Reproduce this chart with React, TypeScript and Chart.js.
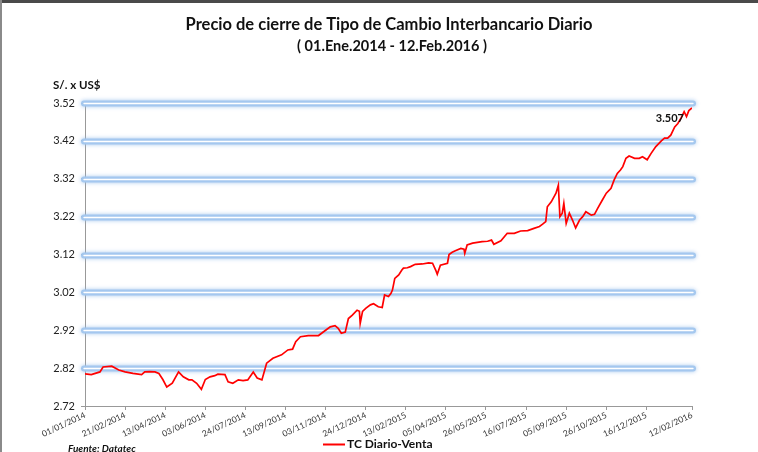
import React, { useEffect, useRef } from "react";
import { Chart, registerables } from "chart.js";

Chart.register(...registerables);

const titleText = "Precio de cierre de Tipo de Cambio Interbancario Diario";
const subtitleText = "( 01.Ene.2014 - 12.Feb.2016 )";
const unitText = "S/. x US$";
const sourceText = "Fuente: Datatec";
const seriesName = "TC Diario-Venta";
const lastValueLabel = "3.507";

const xTickDays = [0, 51, 102, 153, 204, 255, 306, 357, 408, 459, 510, 561, 612, 663, 714, 772];
const xTickLabels = [
  "01/01/2014", "21/02/2014", "13/04/2014", "03/06/2014", "24/07/2014", "13/09/2014",
  "03/11/2014", "24/12/2014", "13/02/2015", "05/04/2015", "26/05/2015", "16/07/2015",
  "05/09/2015", "26/10/2015", "16/12/2015", "12/02/2016",
];
const yTicks = [2.72, 2.82, 2.92, 3.02, 3.12, 3.22, 3.32, 3.42, 3.52];

// day offset from 01/01/2014
const days = [
  0, 8, 19, 23, 34, 43, 51, 61, 72, 76, 82, 89, 94, 99, 104, 111, 119, 125, 132, 136,
  142, 148, 153, 159, 165, 169, 178, 182, 188, 195, 201, 207, 214, 219, 225, 231, 239, 250, 258, 264,
  268, 274, 284, 297, 306, 312, 318, 322, 326, 331, 335, 340, 346, 349, 350, 353, 357, 363, 367, 373,
  378, 381, 386, 389, 391, 394, 399, 403, 405, 410, 414, 420, 429, 437, 442, 446, 448, 452, 461, 463,
  467, 471, 478, 482, 483, 486, 493, 499, 505, 512, 517, 520, 529, 537, 546, 554, 563, 571, 578, 582,
  586, 588, 593, 599, 602, 604, 607, 609, 612, 616, 620, 624, 629, 633, 637, 644, 648, 652, 658, 663,
  669, 673, 677, 681, 684, 688, 692, 699, 705, 709, 715, 720, 726, 733, 737, 741, 745, 750, 754, 758,
  762, 765, 768, 772,
];
const values = [
  2.805, 2.803, 2.81, 2.823, 2.825, 2.815, 2.81, 2.806, 2.803, 2.81, 2.811, 2.81, 2.806, 2.79, 2.77, 2.78, 2.81, 2.797, 2.789, 2.789,
  2.78, 2.764, 2.79, 2.797, 2.8, 2.804, 2.803, 2.784, 2.78, 2.789, 2.787, 2.789, 2.81, 2.794, 2.789, 2.833, 2.846, 2.855, 2.868, 2.87,
  2.89, 2.903, 2.906, 2.906, 2.92, 2.929, 2.932, 2.925, 2.912, 2.915, 2.951, 2.96, 2.973, 2.97, 2.938, 2.97, 2.978, 2.987, 2.99, 2.982,
  2.98, 3.013, 3.009, 3.017, 3.026, 3.057, 3.066, 3.079, 3.084, 3.085, 3.088, 3.094, 3.095, 3.098, 3.097, 3.079, 3.068, 3.092, 3.097, 3.12,
  3.126, 3.13, 3.136, 3.134, 3.123, 3.145, 3.15, 3.152, 3.154, 3.155, 3.158, 3.147, 3.156, 3.176, 3.176, 3.182, 3.183, 3.189, 3.194, 3.2,
  3.207, 3.246, 3.259, 3.282, 3.303, 3.22, 3.229, 3.255, 3.202, 3.229, 3.211, 3.19, 3.211, 3.22, 3.233, 3.224, 3.226, 3.242, 3.264, 3.282,
  3.295, 3.317, 3.334, 3.343, 3.352, 3.374, 3.38, 3.374, 3.374, 3.378, 3.37, 3.387, 3.405, 3.42, 3.427, 3.427, 3.435, 3.457, 3.466, 3.48,
  3.497, 3.484, 3.5, 3.507,
];

const FONT = 'Lato, "Open Sans", "Liberation Sans", sans-serif';

const decorPlugin = {
  id: "decor",
  beforeDraw(chart: any) {
    const ctx = chart.ctx as CanvasRenderingContext2D;
    const { width, height } = chart;
    ctx.save();
    ctx.fillStyle = "#ffffff";
    ctx.fillRect(0, 0, width, height);
    ctx.fillStyle = "#4a4a4a";
    ctx.fillRect(0, 0, width, 3);
    ctx.fillStyle = "#8a8a8a";
    ctx.fillRect(0, 0, 2, height);
    ctx.restore();
  },
  beforeDatasetsDraw(chart: any) {
    const ctx = chart.ctx as CanvasRenderingContext2D;
    const area = chart.chartArea;
    const ys = chart.scales.y;
    ctx.save();
    ctx.lineCap = "round";
    yTicks.slice(1).forEach((v) => {
      const y = Math.round(ys.getPixelForValue(v)) + 0.5;
      const x0 = area.left - 1;
      const x1 = area.right + 1;
      ctx.save();
      ctx.shadowColor = "rgba(150,190,235,0.9)";
      ctx.shadowBlur = 4;
      ctx.beginPath();
      ctx.lineWidth = 6;
      ctx.strokeStyle = "rgba(162,198,238,0.95)";
      ctx.moveTo(x0, y);
      ctx.lineTo(x1, y);
      ctx.stroke();
      ctx.restore();
      ctx.beginPath();
      ctx.lineWidth = 1.3;
      ctx.strokeStyle = "#ffffff";
      ctx.moveTo(x0, y);
      ctx.lineTo(x1, y);
      ctx.stroke();
    });
    ctx.restore();
  },
  afterDraw(chart: any) {
    const ctx = chart.ctx as CanvasRenderingContext2D;
    ctx.save();
    ctx.fillStyle = "#111111";
    ctx.textAlign = "center";
    ctx.textBaseline = "middle";
    ctx.font = `bold 16.5px ${FONT}`;
    ctx.fillText(titleText, 389, 25);
    ctx.font = `bold 14.5px ${FONT}`;
    ctx.fillText(subtitleText, 392, 46);
    ctx.textAlign = "left";
    ctx.font = `bold 11.5px ${FONT}`;
    ctx.fillText(unitText, 53, 85);

    ctx.strokeStyle = "#ff0000";
    ctx.lineWidth = 2;
    ctx.beginPath();
    ctx.moveTo(323, 444.5);
    ctx.lineTo(345, 444.5);
    ctx.stroke();
    ctx.fillStyle = "#111111";
    ctx.font = `bold 12px ${FONT}`;
    ctx.fillText(seriesName, 347, 444);

    ctx.font = `italic bold 10px ${FONT}`;
    ctx.fillText(sourceText, 68, 449);

    const meta = chart.getDatasetMeta(0);
    const last = meta.data[meta.data.length - 1];
    if (last) {
      ctx.textAlign = "right";
      ctx.font = `bold 11px ${FONT}`;
      ctx.fillStyle = "#111111";
      ctx.fillText(lastValueLabel, last.x - 8, last.y + 11);
    }
    ctx.restore();
  },
};

export default function App() {
  const ref = useRef<HTMLCanvasElement | null>(null);

  useEffect(() => {
    document.body.style.margin = "0";
    const canvas = ref.current;
    if (!canvas) return;
    const points = days.map((d, i) => ({ x: d, y: values[i] }));
    const chart = new Chart(canvas, {
      type: "line",
      data: {
        datasets: [
          {
            label: seriesName,
            data: points,
            borderColor: "#ff0000",
            borderWidth: 1.7,
            pointRadius: 0,
            tension: 0,
            fill: false,
          },
        ],
      },
      options: {
        animation: false,
        responsive: false,
        maintainAspectRatio: false,
        layout: { padding: { left: 0, right: 66, top: 103, bottom: 10 } },
        plugins: {
          legend: { display: false },
          tooltip: { enabled: false },
          title: { display: false },
        },
        scales: {
          x: {
            type: "linear",
            min: 0,
            max: 772,
            afterBuildTicks: (s: any) => {
              s.ticks = xTickDays.map((v) => ({ value: v }));
            },
            afterFit: (s: any) => {
              s.height = 36;
            },
            ticks: {
              autoSkip: false,
              minRotation: 25,
              maxRotation: 25,
              padding: 0,
              color: "#333333",
              font: { family: FONT, size: 8.5 },
              callback: (_v: any, i: number) => xTickLabels[i] ?? "",
            },
            grid: { drawOnChartArea: false, tickLength: 4, color: "#999999" },
            border: { color: "#999999" },
          },
          y: {
            type: "linear",
            min: 2.72,
            max: 3.52,
            afterBuildTicks: (s: any) => {
              s.ticks = yTicks.map((v) => ({ value: v }));
            },
            afterFit: (s: any) => {
              s.width = 85;
            },
            ticks: {
              padding: 6,
              color: "#222222",
              font: { family: FONT, size: 11 },
              callback: (v: any) => Number(v).toFixed(2),
            },
            grid: { drawOnChartArea: false, tickLength: 4, color: "#999999" },
            border: { color: "#999999" },
          },
        },
      },
      plugins: [decorPlugin],
    } as any);
    return () => chart.destroy();
  }, []);

  return <canvas ref={ref} width={758} height={452} style={{ display: "block" }} />;
}
